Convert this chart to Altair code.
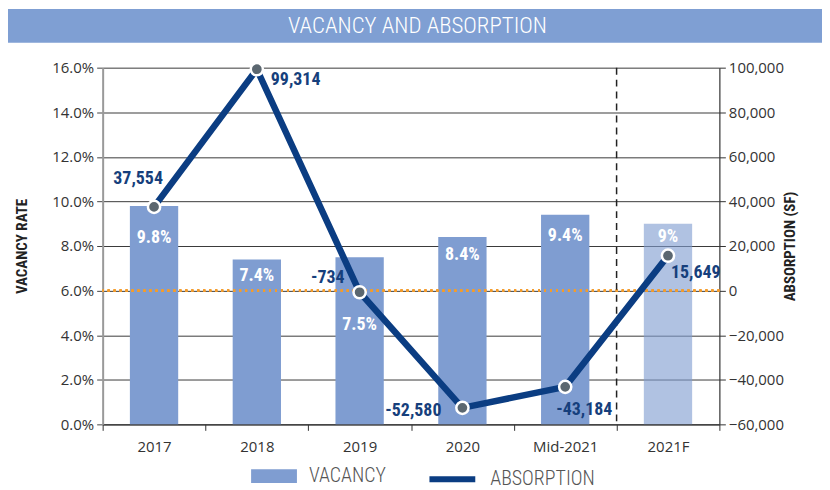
import altair as alt
import pandas as pd

banner_title = "VACANCY AND ABSORPTION"
categories = ["2017", "2018", "2019", "2020", "Mid-2021", "2021F"]
vacancy = [9.8, 7.4, 7.5, 8.4, 9.4, 9.0]
vacancy_labels = ["9.8%", "7.4%", "7.5%", "8.4%", "9.4%", "9%"]
absorption = [37554, 99314, -734, -52580, -43184, 15649]
absorption_labels = ["37,554", "99,314", "-734", "-52,580", "-43,184", "15,649"]
period = ["actual", "actual", "actual", "actual", "actual", "forecast"]
forecast_start = ["2021F"]

# label placement (styling only): (dx, dy, align)
vac_label_style = {
    "2017": (0, 32, "center"), "2018": (0, 17, "center"), "2019": (0, 68, "center"),
    "2020": (0, 18, "center"), "Mid-2021": (0, 21, "center"), "2021F": (0, 13, "center"),
}
abs_label_style = {
    "2017": (-16, -28, "center"), "2018": (14, 11, "left"), "2019": (-15, -14, "right"),
    "2020": (-21, 3, "right"), "Mid-2021": (-9, 23, "left"), "2021F": (3, 17, "left"),
}

df = pd.DataFrame({
    "cat": categories,
    "vac": vacancy,
    "vac_label": vacancy_labels,
    "abs": absorption,
    "abs_label": absorption_labels,
    "period": period,
    "s1": ["VACANCY"] * len(categories),
    "s2": ["ABSORPTION"] * len(categories),
    "zero": [0] * len(categories),
})

BAR = "#7f9dd1"
NAVY = "#0b3d82"
LABEL_NAVY = "#163f7c"
BANNER = "#7f9fd3"
COND = "Roboto Condensed"
REG = "Open Sans"

vscale = alt.Scale(domain=[0, 16], nice=False, zero=False)
ascale = alt.Scale(domain=[-60000, 100000], nice=False, zero=False)
xscale = alt.Scale(paddingInner=0, paddingOuter=0)

x_axis = alt.Axis(labelAngle=0, tickBand="extent", labelFont=REG, labelFontSize=15,
                  labelColor="#333", labelPadding=9, tickSize=6, tickColor="#333",
                  domainColor="#333", domainWidth=1.2, grid=False)
X = alt.X("cat:N", sort=categories, title=None, scale=xscale, axis=x_axis)

v_axis = alt.Axis(values=list(range(0, 17, 2)), labelExpr="format(datum.value, '.1f') + '%'",
                  labelFont=REG, labelFontSize=15, labelColor="#333", labelPadding=3,
                  tickSize=6, tickColor="#444", domainColor="#999", domainWidth=2,
                  grid=True, gridColor="#3a3a3a", gridWidth=1,
                  titleFont=COND, titleFontSize=15, titleFontWeight="bold",
                  titleColor="#222", titlePadding=22)
VY = alt.Y("vac:Q", scale=vscale, title="VACANCY RATE", axis=v_axis)

a_axis = alt.Axis(orient="right", values=list(range(-60000, 100001, 20000)),
                  labelExpr="format(datum.value, ',')",
                  labelFont=REG, labelFontSize=15, labelColor="#333", labelPadding=3,
                  tickSize=6, tickColor="#333", domainColor="#333", domainWidth=1.2,
                  grid=False, titleFont=COND, titleFontSize=15, titleFontWeight="bold",
                  titleColor="#222", titleAngle=270, titlePadding=14)
AY = alt.Y("abs:Q", scale=ascale, title="ABSORPTION (SF)", axis=a_axis)
AY0 = alt.Y("zero:Q", scale=ascale, title="ABSORPTION (SF)", axis=a_axis)

base = alt.Chart(df)

# title banner (decoration above the plot)
banner_df = pd.DataFrame({"t": [banner_title]})
banner_rect = alt.Chart(banner_df).mark_rect(color=BANNER).encode(
    x=alt.value(-95), x2=alt.value(722), y=alt.value(-59), y2=alt.value(-25)
)
banner_text = alt.Chart(banner_df).mark_text(
    font=COND, fontWeight=300, fontSize=23, color="white", baseline="middle", align="center"
).encode(text="t:N", x=alt.value(316), y=alt.value(-42))

bars = base.mark_bar(width=alt.RelativeBandSize(0.47)).encode(
    x=X,
    y=VY,
    color=alt.Color("s1:N", scale=alt.Scale(domain=["VACANCY"], range=[BAR]),
                    legend=alt.Legend(title=None, orient="none", legendX=149, legendY=387,
                                      symbolType="M-1,-0.3H1V0.3H-1Z", symbolSize=2116,
                                      symbolStrokeWidth=0, labelFont=COND, labelFontWeight=300,
                                      labelFontSize=20, labelColor="#555", labelOffset=12,
                                      labelLimit=300)),
    opacity=alt.Opacity("period:N", scale=alt.Scale(domain=["actual", "forecast"], range=[1, 0.62]),
                        legend=None),
)

vac_layers = [banner_rect, banner_text, bars]
for c in categories:
    dx, dy, al = vac_label_style[c]
    vac_layers.append(
        base.transform_filter(alt.datum.cat == c)
        .mark_text(dx=dx, dy=dy, align=al, baseline="middle", font=COND, fontSize=18,
                   fontWeight="bold", color="white")
        .encode(x=X, y=VY, text="vac_label:N")
    )
vac_group = alt.layer(*vac_layers)

zero_rule = base.mark_rule(color="#f39c2c", strokeDash=[2, 4], strokeWidth=2.2).encode(y=AY0)

vrule = alt.Chart(pd.DataFrame({"cat": forecast_start})).mark_rule(
    color="#222", strokeDash=[7, 5], strokeWidth=1.5
).encode(x=alt.X("cat:N", sort=categories, bandPosition=0, title=None, scale=xscale, axis=x_axis))

line = base.mark_line(strokeWidth=6.5).encode(
    x=X,
    y=AY,
    stroke=alt.Stroke("s2:N", scale=alt.Scale(domain=["ABSORPTION"], range=[NAVY]),
                      legend=alt.Legend(title=None, orient="none", legendX=325, legendY=387,
                                        symbolType="stroke", symbolSize=2116, symbolStrokeWidth=6,
                                        labelFont=COND, labelFontWeight=300, labelFontSize=20,
                                        labelColor="#555", labelOffset=12, labelLimit=300)),
)

points = base.mark_point(filled=True, size=150, fill="#5b6770", stroke="white",
                         strokeWidth=2.5, opacity=1).encode(x=X, y=AY)

abs_layers = [zero_rule, vrule, line, points]
for c in categories:
    dx, dy, al = abs_label_style[c]
    abs_layers.append(
        base.transform_filter(alt.datum.cat == c)
        .mark_text(dx=dx, dy=dy, align=al, baseline="middle", font=COND, fontSize=18,
                   fontWeight="bold", color=LABEL_NAVY)
        .encode(x=X, y=AY, text="abs_label:N")
    )
abs_group = alt.layer(*abs_layers)

chart = alt.layer(vac_group, abs_group).resolve_scale(y="independent").properties(
    width=619, height=358,
    padding={"left": 0, "top": 0, "right": 0, "bottom": 0},
).configure_view(stroke="transparent")

chart.save("out.html", embed_options={"renderer": "svg", "actions": False})
